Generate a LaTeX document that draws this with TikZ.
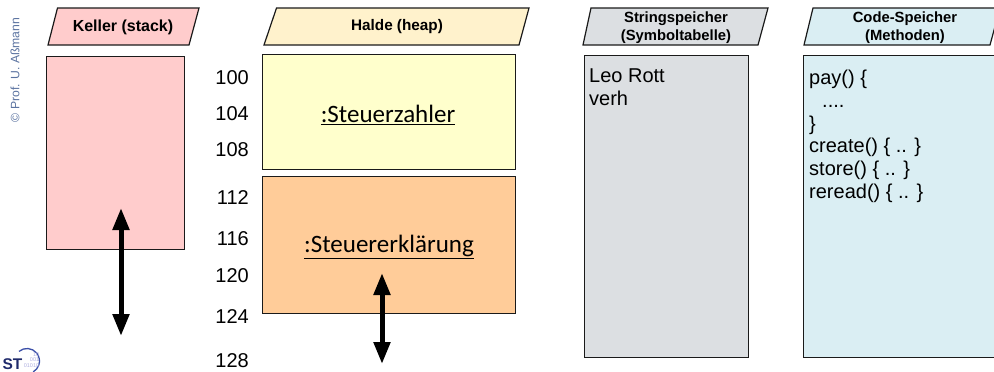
\documentclass[tikz,border=0pt]{standalone}
\usepackage{fontspec}
\setmainfont{Liberation Sans}
\newfontfamily\carlito{Carlito}
\usetikzlibrary{arrows.meta}
\definecolor{kpink}{HTML}{FFCCCC}
\definecolor{hcream}{HTML}{FFF2CC}
\definecolor{hyellow}{HTML}{FFFFCC}
\definecolor{horange}{HTML}{FFCC99}
\definecolor{sgray}{HTML}{DCDFE2}
\definecolor{cblue}{HTML}{DAEEF3}
\definecolor{edge}{HTML}{1A1A1A}
\definecolor{copy}{HTML}{5B73A0}
\definecolor{stnavy}{HTML}{1F2A6B}
\definecolor{stlight}{HTML}{B0B0E0}
\definecolor{stblue}{HTML}{3B4FA8}
\tikzset{
  memrect/.style={draw=edge, line width=1.2pt, anchor=north west, inner sep=0pt},
  hdr/.style={draw=edge, line width=1.2pt, line join=miter},
  hdrtext/.style={font=\fontsize{14.8}{18.5}\selectfont\bfseries, align=center, inner sep=0pt},
  addr/.style={font=\fontsize{20}{24}\selectfont, anchor=east, inner sep=0pt},
  obj/.style={font=\carlito\fontsize{25}{29}\selectfont, inner sep=0pt},
  codeline/.style={font=\fontsize{20}{24}\selectfont, anchor=base west, inner sep=0pt},
  growarrow/.style={line width=5pt, {Triangle[width=16pt,length=22pt]}-{Triangle[width=16pt,length=22pt]}}
}
\begin{document}
\begin{tikzpicture}[x=1pt,y=-1pt]
\useasboundingbox (0,0) rectangle (994,372);
% copyright
\node[rotate=90, text=copy, font=\fontsize{12.2}{14}\selectfont, inner sep=0pt] (copyright) at (15,70) {© Prof. U. Aßmann};
% logo
\draw[stblue, line width=1.3pt] (27,361) ++(-130:12.5) arc (-130:60:12.5);
\node[font=\fontsize{5.5}{5.8}\selectfont, text=stlight, align=right, inner sep=0pt] (stbits) at (31.5,360) {10\\001\\01010};
\node[font=\fontsize{15.5}{16}\selectfont\bfseries, text=stnavy, inner sep=0pt] (stlogo) at (12.5,364) {ST};
% headers
\draw[hdr, fill=kpink] (48,45) -- (57.5,8) -- (199,8) -- (189,45) -- cycle;
\node[hdrtext, font=\fontsize{16}{18.5}\selectfont\bfseries] (kellerhdr) at (123,27) {Keller (stack)};
\draw[hdr, fill=hcream] (264,45) -- (276.5,8) -- (529,8) -- (519,45) -- cycle;
\node[hdrtext, font=\fontsize{15.3}{18.5}\selectfont\bfseries] (haldehdr) at (397,27) {Halde (heap)};
\draw[hdr, fill=sgray] (583,45) -- (591,8) -- (768,8) -- (758,45) -- cycle;
\node[hdrtext] (stringhdr) at (676,27.5) {Stringspeicher\\(Symboltabelle)};
\draw[hdr, fill=cblue] (804,45) -- (813,8) -- (1000,8) -- (990,45) -- cycle;
\node[hdrtext] (codehdr) at (905,27.5) {Code-Speicher\\(Methoden)};
% boxes
\node[memrect, fill=kpink, minimum width=138pt, minimum height=193pt] (keller) at (46,56) {};
\node[memrect, fill=hyellow, minimum width=253pt, minimum height=115pt] (zahler) at (262,54) {};
\node[memrect, fill=horange, minimum width=253pt, minimum height=137pt] (erkl) at (262,176) {};
\node[memrect, fill=sgray, minimum width=164pt, minimum height=302pt] (string) at (584,55) {};
\node[memrect, fill=cblue, minimum width=220pt, minimum height=302pt] (code) at (803,55) {};
% object labels
\node[obj] (zahlertxt) at (388,115) {\underline{:Steuerzahler}};
\node[obj] (erkltxt) at (389,247) {\underline{:Steuererklärung}};
% addresses
\node[addr] (a100) at (249,78) {100};
\node[addr] (a104) at (249,114) {104};
\node[addr] (a108) at (249,150) {108};
\node[addr] (a112) at (249,198) {112};
\node[addr] (a116) at (249,239) {116};
\node[addr] (a120) at (249,276) {120};
\node[addr] (a124) at (249,317) {124};
\node[addr] (a128) at (249,361) {128};
% string memory
\node[codeline] (s1) at (589,82) {Leo Rott};
\node[codeline] (s2) at (589,105) {verh};
% code memory
\node[codeline] (c1) at (809,84) {pay() \{};
\node[codeline] (c2) at (822,107) {....};
\node[codeline] (c3) at (809,130) {\}};
\node[codeline] (c4) at (809,152) {create() \{ .. \}};
\node[codeline] (c5) at (809,175) {store() \{ .. \}};
\node[codeline] (c6) at (809,198) {reread() \{ .. \}};
% growth arrows
\coordinate (ktop) at (121,208);
\coordinate (kbot) at (121,336);
\coordinate (htop) at (382,273);
\coordinate (hbot) at (382,364);
\draw[growarrow] (ktop) -- (kbot);
\draw[growarrow] (htop) -- (hbot);
\end{tikzpicture}
\end{document}
